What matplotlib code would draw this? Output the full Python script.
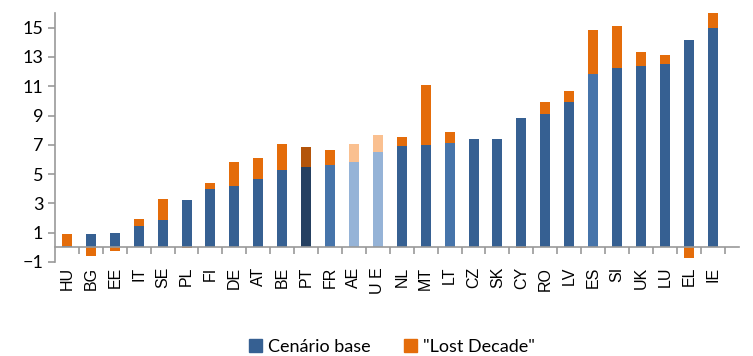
import numpy as np
import matplotlib.pyplot as plt
from matplotlib.patches import Patch

countries = ["HU", "BG", "EE", "IT", "SE", "PL", "FI", "DE", "AT", "BE", "PT", "FR", "AE", "U E",
             "NL", "MT", "LT", "CZ", "SK", "CY", "RO", "LV", "ES", "SI", "UK", "LU", "EL", "IE"]
base = [0.1, 0.9, 1.0, 1.43, 1.84, 3.2, 4.0, 4.22, 4.69, 5.3, 5.49, 5.63, 5.83, 6.51,
        6.9, 7.01, 7.12, 7.42, 7.42, 8.82, 9.12, 9.93, 11.84, 12.22, 12.41, 12.52, 14.13, 15.01]
lost = [0.81, -0.56, -0.22, 0.5, 1.47, -0.05, 0.42, 1.61, 1.43, 1.73, 1.36, 0.99, 1.22, 1.16,
        0.63, 4.09, 0.73, 0.0, 0.0, -0.05, 0.79, 0.73, 2.97, 2.91, 0.9, 0.59, -0.75, 1.02]

BLUE, ORANGE = "#366092", "#e46c0a"
# highlighted bars use their own shades
special_base = {"PT": "#254061", "FR": "#4674aa", "LT": "#4674aa", "ES": "#4674aa",
                "AE": "#95b3d7", "U E": "#95b3d7"}
special_lost = {"PT": "#b3540a", "AE": "#fac090", "U E": "#fac090"}

plt.rcParams["font.family"] = ["Lato", "DejaVu Sans"]

fig = plt.figure(figsize=(7.53, 3.56), dpi=100)
ax = fig.add_axes([55 / 753, 1 - 262 / 356, 684 / 753, 249 / 356])

# spine moved first: set_position resets the ticks
for side in ["top", "right"]:
    ax.spines[side].set_visible(False)
ax.spines["bottom"].set_position(("data", 0))
for side in ["bottom", "left"]:
    ax.spines[side].set_color("#999999")
    ax.spines[side].set_linewidth(1.2)

x = np.arange(len(countries))
base = np.array(base)
lost = np.array(lost)
bcol = [special_base.get(c, BLUE) for c in countries]
lcol = [special_lost.get(c, ORANGE) for c in countries]
lbottom = np.where(lost >= 0, base, 0.0)
ax.bar(x, base, width=0.42, color=bcol, zorder=2)
ax.bar(x, lost, width=0.42, bottom=lbottom, color=lcol, zorder=2)

ax.set_ylim(-1, 16)
ax.set_xlim(-0.5, 28.1)
ax.set_yticks(np.arange(-1, 16, 2))
ax.set_xticks(x)
ax.set_xticklabels(countries, family="Liberation Sans", fontsize=11.5, rotation=90)
ax.set_xticks(np.arange(0.5, 28, 1), minor=True)
ax.tick_params(axis="x", which="major", length=0, pad=14)
ax.tick_params(axis="x", which="minor", length=5, color="#999999", width=1.2)
ax.tick_params(axis="y", length=5, color="#999999", width=1.2, labelsize=13)

handles = [Patch(color=BLUE, label="Cenário base"), Patch(color=ORANGE, label='"Lost Decade"')]
fig.legend(handles=handles, loc="center", bbox_to_anchor=(392 / 753, 1 - 347 / 356), ncol=2,
           frameon=False, fontsize=13, handlelength=0.75, handleheight=0.75,
           handletextpad=0.35, columnspacing=1.8)

fig.savefig("out.png", dpi=100)
